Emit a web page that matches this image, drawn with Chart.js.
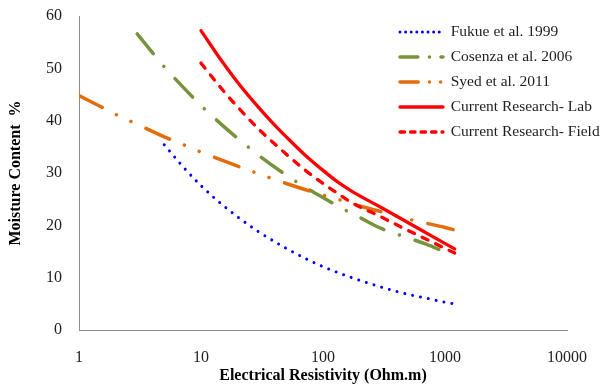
<!DOCTYPE html>
<html>
<head>
<meta charset="utf-8">
<script src="https://cdn.jsdelivr.net/npm/chart.js@4/dist/chart.umd.min.js"></script>
<style>
  html, body { margin: 0; padding: 0; background: #ffffff; }
  #wrap { width: 603px; height: 385px; position: relative; }
</style>
</head>
<body>
<div id="wrap"><canvas id="chart"></canvas></div>
<script>
// ---- Data ----
const seriesNames = [
  "Fukue et al. 1999",
  "Cosenza et al. 2006",
  "Syed et al. 2011",
  "Current Research- Lab",
  "Current Research- Field"
];

const fukueX = [5, 7, 10, 15, 20, 30, 50, 70, 100, 150, 200, 300, 500, 700, 1000, 1200];
const fukueY = [35.4, 31.4, 27.6, 23.9, 21.6, 18.7, 15.6, 13.8, 12.1, 10.5, 9.5, 8.2, 6.8, 6.1, 5.3, 5.0];

const cosenzaX = [3, 4, 5, 7, 10, 15, 20, 30, 50, 70, 100, 150, 200, 300, 500, 700, 1000];
const cosenzaY = [56.6, 53.0, 50.3, 46.6, 42.9, 39.1, 36.6, 33.3, 29.6, 27.4, 25.3, 23.0, 21.5, 19.4, 17.6, 16.4, 14.9];

const syedX = [1, 1.5, 2, 3, 5, 7, 10, 15, 20, 30, 50, 70, 100, 150, 200, 300, 500, 700, 1000, 1200];
const syedY = [44.8, 42.7, 41.2, 39.3, 36.9, 35.5, 34.0, 32.4, 31.3, 29.8, 28.0, 26.9, 25.8, 24.6, 23.7, 22.6, 21.2, 20.4, 19.6, 19.1];

const labX = [10, 15, 20, 30, 40, 50, 70, 100, 130, 170, 300, 500, 800, 1200];
const labY = [57.2, 51.2, 47.3, 42.4, 39.2, 36.9, 33.6, 30.5, 28.4, 26.6, 23.4, 20.5, 17.8, 15.5];

const fieldX = [10, 15, 20, 30, 50, 70, 100, 130, 170, 300, 500, 800, 1200];
const fieldY = [51.0, 45.9, 42.6, 38.3, 33.6, 30.7, 28.0, 26.2, 24.4, 21.6, 19.0, 16.7, 14.7];

const xTickValues = [1, 10, 100, 1000, 10000];
const yTickValues = [0, 10, 20, 30, 40, 50, 60];

const xTitle = "Electrical Resistivity (Ohm.m)";
const yTitle = "Moisture Content  %";

// ---- Build ----
function pts(xs, ys) { return xs.map((x, i) => ({ x: x, y: ys[i] })); }

const FONT = "'Liberation Serif', 'Times New Roman', serif";
const TEXT = '#1e1e1e';
const AXIS = '#8c8c8c';

const datasets = [
  { label: seriesNames[0], data: pts(fukueX, fukueY), borderColor: '#0000FF', borderWidth: 3,
    borderDash: [0.01, 8], order: 0 },
  { label: seriesNames[1], data: pts(cosenzaX, cosenzaY), borderColor: '#77933C', borderWidth: 3.5,
    borderDash: [25.5, 16.5, 0.01, 16.5], order: -1 },
  { label: seriesNames[2], data: pts(syedX, syedY), borderColor: '#E46C0A', borderWidth: 3.5,
    borderDash: [26, 16, 0.01, 16, 0.01, 16.5], order: -2 },
  { label: seriesNames[3], data: pts(labX, labY), borderColor: '#FF0000', borderWidth: 3.3,
    borderDash: [], order: -3 },
  { label: seriesNames[4], data: pts(fieldX, fieldY), borderColor: '#FF0000', borderWidth: 3.3,
    borderDash: [6.5, 8.5], order: -4 }
].map(d => Object.assign({
  fill: false, pointRadius: 0, pointHoverRadius: 0, cubicInterpolationMode: 'monotone',
  borderCapStyle: 'round', borderJoinStyle: 'round', backgroundColor: d.borderColor
}, d));

const legendMover = {
  id: 'legendMover',
  afterLayout(chart) {
    const lg = chart.legend;
    if (!lg) return;
    lg.left = 390.5; lg.right = 603;
    lg.top = 14.75; lg.bottom = 345;
    lg.width = lg.right - lg.left;
    lg.height = lg.bottom - lg.top;
  }
};

new Chart(document.getElementById('chart'), {
  type: 'line',
  data: { datasets: datasets },
  plugins: [legendMover],
  options: {
    responsive: true,
    maintainAspectRatio: false,
    animation: false,
    devicePixelRatio: 1,
    layout: { padding: { left: 0, right: 36, top: 16, bottom: 0 } },
    plugins: {
      tooltip: { enabled: false },
      legend: {
        display: true,
        position: 'chartArea',
        align: 'start',
        labels: {
          usePointStyle: true,
          pointStyle: 'line',
          pointStyleWidth: 43,
          padding: 9.5,
          color: TEXT,
          font: { family: FONT, size: 15.5 },
          sort: (a, b) => a.datasetIndex - b.datasetIndex,
          generateLabels(chart) {
            const items = Chart.defaults.plugins.legend.labels.generateLabels(chart);
            items.forEach(it => {
              const ds = chart.data.datasets[it.datasetIndex];
              it.pointStyle = 'line';
              it.rotation = 180;
              it.lineWidth = ds.borderWidth;
              it.strokeStyle = ds.borderColor;
              it.fillStyle = ds.borderColor;
              it.lineCap = 'round';
              it.lineDash = (ds.borderDash || []).map(v => v * 0.7);
              it.lineDashOffset = 0;
            });
            return items;
          }
        }
      }
    },
    scales: {
      x: {
        type: 'logarithmic',
        min: 1, max: 10000,
        afterBuildTicks: s => { s.ticks = xTickValues.map(v => ({ value: v, major: true })); },
        afterFit: s => { s.height = 55; s.paddingLeft = 0; s.paddingRight = 0; },
        grid: { drawOnChartArea: false, drawTicks: false, color: AXIS },
        border: { display: true, color: AXIS, width: 1 },
        ticks: {
          autoSkip: false, maxRotation: 0, minRotation: 0, padding: 18,
          color: TEXT, font: { family: FONT, size: 16 },
          callback: v => String(v)
        },
        title: {
          display: true, text: xTitle, color: '#000',
          font: { family: FONT, size: 16, weight: 'bold' },
          padding: { top: 0, bottom: 0 }
        }
      },
      y: {
        type: 'linear',
        min: 0, max: 60,
        afterBuildTicks: s => { s.ticks = yTickValues.map(v => ({ value: v })); },
        afterFit: s => { s.width = 79; s.paddingTop = 0; s.paddingBottom = 0; },
        grid: { drawOnChartArea: false, drawTicks: false, color: AXIS },
        border: { display: true, color: AXIS, width: 1 },
        ticks: {
          padding: 17, color: TEXT, font: { family: FONT, size: 16 },
          callback: v => String(v)
        },
        title: {
          display: true, text: yTitle, color: '#000',
          font: { family: FONT, size: 16, weight: 'bold' },
          padding: { top: 6, bottom: 0 }
        }
      }
    }
  }
});
</script>
</body>
</html>
